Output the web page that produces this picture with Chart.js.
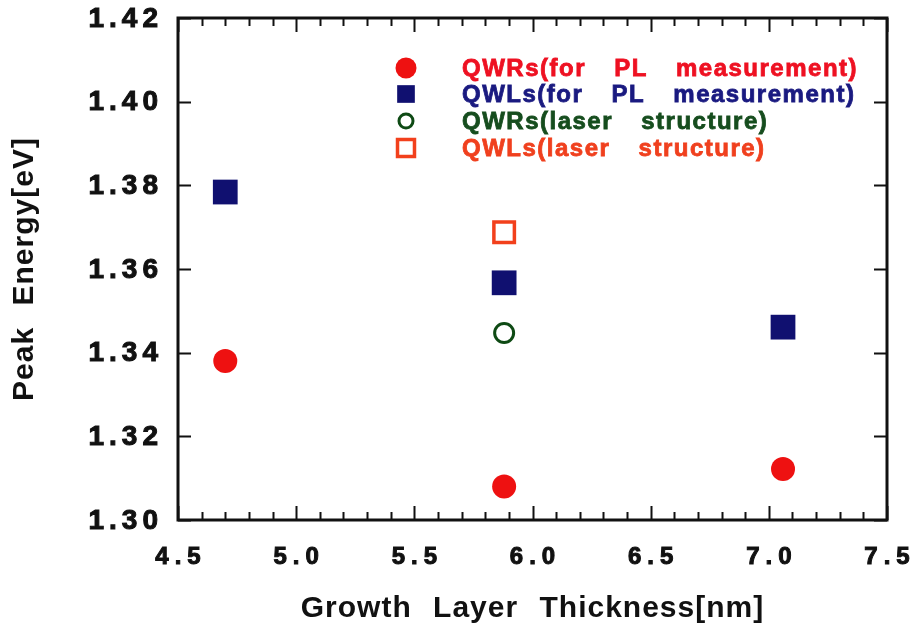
<!DOCTYPE html>
<html>
<head>
<meta charset="utf-8">
<script src="https://cdn.jsdelivr.net/npm/chart.js@4/dist/chart.umd.min.js"></script>
<style>
  html, body { margin: 0; padding: 0; background: #fff; }
  #chart { display: block; }
</style>
</head>
<body>
<canvas id="chart" width="913" height="627"></canvas>
<script>
// data
const thickness = [4.70, 5.88, 7.06];
const qwrPL = [1.338, 1.308, 1.3122];
const qwlPL = [1.3784, 1.3567, 1.3461];
const laserThickness = [5.88];
const qwrLaser = [1.3447];
const qwlLaser = [1.3688];

const seriesNames = [
  "QWRs(for PL measurement)",
  "QWLs(for PL measurement)",
  "QWRs(laser structure)",
  "QWLs(laser structure)"
];
const legendTextColors = ["#ee1122", "#1a1a80", "#164d1e", "#f0401e"];

const xTicks = [4.5, 5.0, 5.5, 6.0, 6.5, 7.0, 7.5];
const xTickLabels = ["4.5", "5.0", "5.5", "6.0", "6.5", "7.0", "7.5"];
const yTicks = [1.30, 1.32, 1.34, 1.36, 1.38, 1.40, 1.42];
const yTickLabels = ["1.30", "1.32", "1.34", "1.36", "1.38", "1.40", "1.42"];

const toPoints = (xs, ys) => ys.map((y, i) => ({ x: xs[i], y: y }));

const FONT = "'Liberation Sans', Arial, sans-serif";

// heavy text, like the scanned print
function boldText(ctx, text, x, y) {
  ctx.fillText(text, x, y);
  ctx.strokeText(text, x, y);
}

// frame, inward ticks, tick labels and the legend box
const framePlugin = {
  id: "frame",
  beforeDatasetsDraw(chart) {
    const { ctx, chartArea: a, scales } = chart;
    const xs = scales.x, ys = scales.y;
    ctx.save();
    ctx.strokeStyle = "#111";
    ctx.lineWidth = 2;

    // x ticks: minor every 0.1, major every 0.5
    for (let i = 0; i <= 30; i++) {
      const v = 4.5 + i * 0.1;
      const px = Math.round(xs.getPixelForValue(v)) + 0.5;
      const len = i % 5 === 0 ? 14 : 8;
      ctx.beginPath();
      ctx.moveTo(px, a.bottom);
      ctx.lineTo(px, a.bottom - len);
      ctx.moveTo(px, a.top);
      ctx.lineTo(px, a.top + len);
      ctx.stroke();
    }
    // y ticks
    yTicks.forEach(v => {
      const py = Math.round(ys.getPixelForValue(v)) + 0.5;
      ctx.beginPath();
      ctx.moveTo(a.left, py);
      ctx.lineTo(a.left + 13, py);
      ctx.moveTo(a.right, py);
      ctx.lineTo(a.right - 13, py);
      ctx.stroke();
    });

    ctx.lineWidth = 3;
    ctx.strokeRect(a.left, a.top, a.right - a.left, a.bottom - a.top);

    // tick labels
    ctx.fillStyle = "#111";
    ctx.lineWidth = 1;
    ctx.font = "bold 28px " + FONT;
    ctx.letterSpacing = "5px";
    ctx.textAlign = "right";
    ctx.textBaseline = "middle";
    yTicks.forEach((v, i) => {
      boldText(ctx, yTickLabels[i], a.left - 20 + 5, ys.getPixelForValue(v) + 1);
    });
    ctx.font = "bold 24px " + FONT;
    ctx.letterSpacing = "6px";
    ctx.textAlign = "center";
    xTicks.forEach((v, i) => {
      boldText(ctx, xTickLabels[i], xs.getPixelForValue(v) + 3, a.bottom + 37);
    });
    ctx.restore();
  },
  afterDatasetsDraw(chart) {
    const { ctx, chartArea: a } = chart;
    const lx = a.left + 228, tx = a.left + 284;
    const rows = [68, 94, 121, 148];
    const markerRadius = [10.5, 12.5, 7, 12];
    ctx.save();
    chart.data.datasets.forEach((ds, i) => {
      ctx.fillStyle = ds.pointBackgroundColor;
      ctx.strokeStyle = ds.pointBorderColor;
      ctx.lineWidth = ds.pointBorderWidth;
      Chart.helpers.drawPoint(ctx, {
        pointStyle: ds.pointStyle,
        radius: markerRadius[i],
        rotation: 0,
        borderWidth: ds.pointBorderWidth
      }, lx, rows[i]);
      ctx.font = "bold 24px " + FONT;
      ctx.letterSpacing = "1.5px";
      ctx.wordSpacing = "20px";
      ctx.textAlign = "left";
      ctx.textBaseline = "alphabetic";
      ctx.fillStyle = legendTextColors[i];
      ctx.strokeStyle = legendTextColors[i];
      ctx.lineWidth = 0.8;
      boldText(ctx, seriesNames[i], tx, rows[i] + 8);
    });
    ctx.restore();
  }
};

const titleSpacing = {
  id: "titleSpacing",
  beforeDraw(chart) {
    chart.ctx.letterSpacing = "1px";
    chart.ctx.wordSpacing = "12px";
  }
};

new Chart(document.getElementById("chart"), {
  type: "scatter",
  data: {
    datasets: [
      {
        label: seriesNames[0],
        data: toPoints(thickness, qwrPL),
        pointStyle: "circle",
        pointRadius: 12,
        pointBackgroundColor: "#ee1111",
        pointBorderColor: "#ee1111",
        pointBorderWidth: 0
      },
      {
        label: seriesNames[1],
        data: toPoints(thickness, qwlPL),
        pointStyle: "rect",
        pointRadius: 17.5,
        pointBackgroundColor: "#101070",
        pointBorderColor: "#101070",
        pointBorderWidth: 0
      },
      {
        label: seriesNames[2],
        data: toPoints(laserThickness, qwrLaser),
        pointStyle: "circle",
        pointRadius: 9.5,
        pointBackgroundColor: "rgba(0,0,0,0)",
        pointBorderColor: "#0e4a14",
        pointBorderWidth: 3
      },
      {
        label: seriesNames[3],
        data: toPoints(laserThickness, qwlLaser),
        pointStyle: "rect",
        pointRadius: 14.5,
        pointBackgroundColor: "rgba(0,0,0,0)",
        pointBorderColor: "#f2401c",
        pointBorderWidth: 3.5
      }
    ]
  },
  options: {
    responsive: false,
    animation: false,
    devicePixelRatio: 1,
    layout: { padding: { top: 18, right: 26, left: 0, bottom: 0 } },
    plugins: {
      legend: { display: false },
      tooltip: { enabled: false }
    },
    scales: {
      x: {
        type: "linear",
        min: 4.5,
        max: 7.5,
        grid: { display: false },
        border: { display: false },
        ticks: { display: false },
        title: {
          display: true,
          text: "Growth Layer Thickness[nm]",
          color: "#111",
          font: { family: FONT, size: 30, weight: "bold" },
          padding: { top: 0, bottom: 0 }
        },
        afterFit(scale) { scale.height = 107; }
      },
      y: {
        type: "linear",
        min: 1.30,
        max: 1.42,
        grid: { display: false },
        border: { display: false },
        ticks: { display: false },
        title: {
          display: true,
          text: "Peak Energy[eV]",
          color: "#111",
          font: { family: FONT, size: 30, weight: "bold" },
          padding: { top: 7, bottom: 0 }
        },
        afterFit(scale) { scale.width = 178; }
      }
    }
  },
  plugins: [titleSpacing, framePlugin]
});
</script>
</body>
</html>
